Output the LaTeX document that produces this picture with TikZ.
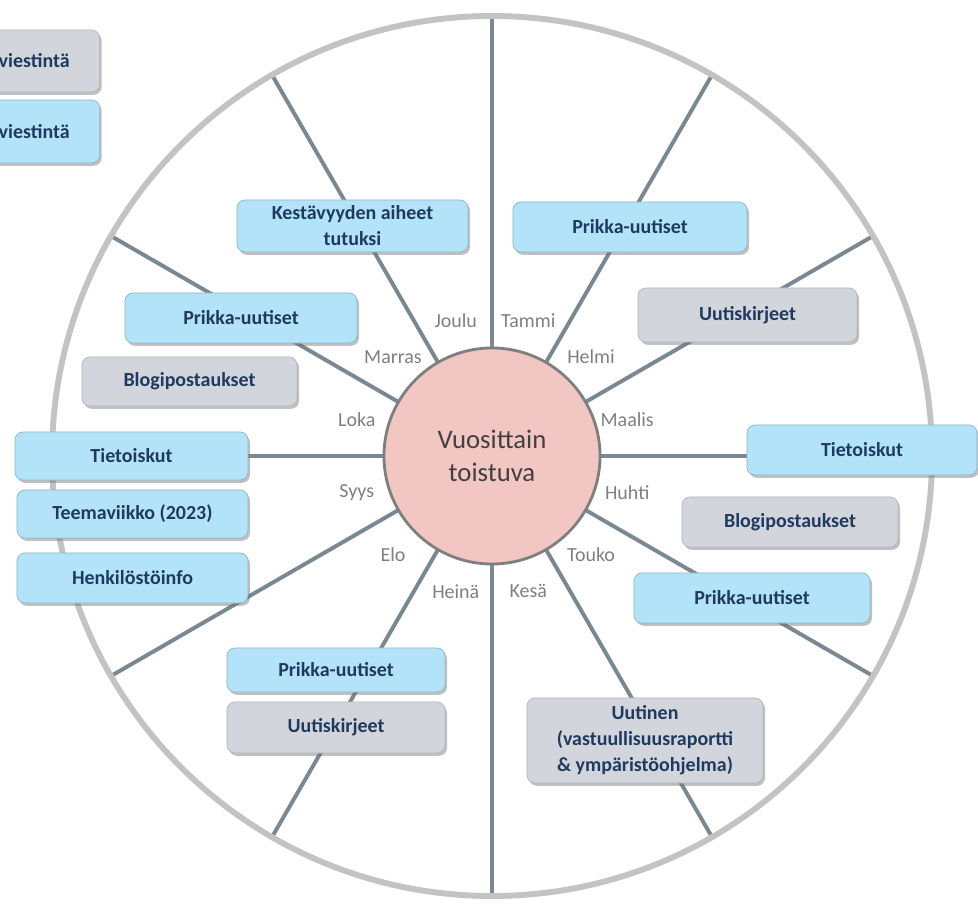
\documentclass[tikz,border=0pt]{standalone}
\usepackage{fontspec}
\setmainfont{Carlito}
\usetikzlibrary{shadows,calc}
\definecolor{spokegray}{HTML}{7A8892}
\definecolor{ringgray}{HTML}{C3C3C3}
\definecolor{hubpink}{HTML}{F2C6C2}
\definecolor{hubline}{HTML}{7F7F7F}
\definecolor{boxblue}{HTML}{B3E3F8}
\definecolor{boxgrey}{HTML}{D3D5DC}
\definecolor{boxtext}{HTML}{1F3A60}
\definecolor{monthgray}{HTML}{7F7F7F}
\begin{document}
\begin{tikzpicture}[x=0.025cm,y=-0.025cm,
  spoke/.style={draw=spokegray,line width=2.8pt},
  ring/.style={draw=ringgray,line width=4.2pt},
  hub/.style={circle,fill=hubpink,draw=hubline,line width=2pt,minimum size=5.4cm,align=center,text=black!75,font=\fontsize{19}{24}\selectfont},
  month/.style={text=monthgray,font=\fontsize{14.2}{16}\selectfont},
  card/.style={rounded corners=0.2cm,line width=0.5pt,text=boxtext,align=center,inner sep=0pt,font=\bfseries\fontsize{14.2}{18.5}\selectfont,drop shadow={shadow xshift=0.05cm,shadow yshift=-0.07cm,opacity=0.45,fill=black!55}},
  bluecard/.style={card,fill=boxblue,draw=boxblue!80!black},
  greycard/.style={card,fill=boxgrey,draw=boxgrey!85!black}]
\useasboundingbox (0,0) rectangle (978,905);
\coordinate (c) at (492,456);
\foreach \a in {0,30,...,330}
  \draw[spoke] (c) -- ++(\a:440);
\draw[ring] (c) circle[radius=440];
\node[hub] (hub) at (c) {Vuosittain\\toistuva};
\foreach \m [count=\i] in {Tammi,Helmi,Maalis,Huhti,Touko,Kesä,Heinä,Elo,Syys,Loka,Marras,Joulu}
  \node[month] (m\i) at ($(c)+(-105+30*\i:140)$) {\m};
\node[greycard,anchor=east,minimum height=1.55cm,text width=3.5cm,align=right,inner xsep=0.75cm] (leg1) at (100,61) {viestintä};
\node[bluecard,anchor=east,minimum height=1.575cm,text width=3.5cm,align=right,inner xsep=0.75cm] (leg2) at (100,131.5) {viestintä};
\node[bluecard,minimum width=5.775cm,minimum height=1.3cm] (kest) at (352.5,226) {Kestävyyden aiheet\\tutuksi};
\node[bluecard,minimum width=5.8cm,minimum height=1.25cm] (prikL) at (241,318) {Prikka-uutiset};
\node[greycard,minimum width=5.375cm,minimum height=1.225cm] (blogL) at (189.5,381.5) {Blogipostaukset};
\node[bluecard,minimum width=5.825cm,minimum height=1.2cm] (tietoL) at (131.5,456) {Tietoiskut};
\node[bluecard,minimum width=5.775cm,minimum height=1.2cm] (teema) at (132.5,514) {Teemaviikko (2023)};
\node[bluecard,minimum width=5.775cm,minimum height=1.25cm] (henk) at (132.5,578) {Henkilöstöinfo};
\node[bluecard,minimum width=5.45cm,minimum height=1.1cm] (prikBL) at (336,670) {Prikka-uutiset};
\node[greycard,minimum width=5.45cm,minimum height=1.275cm] (uutBL) at (336,727.5) {Uutiskirjeet};
\node[bluecard,minimum width=5.85cm,minimum height=1.25cm] (prikTR) at (630,227) {Prikka-uutiset};
\node[greycard,minimum width=5.475cm,minimum height=1.35cm] (uutR) at (747.5,315) {Uutiskirjeet};
\node[bluecard,minimum width=5.75cm,minimum height=1.25cm] (tietoR) at (862,450) {Tietoiskut};
\node[greycard,minimum width=5.4cm,minimum height=1.25cm] (blogR) at (790,522) {Blogipostaukset};
\node[bluecard,minimum width=5.9cm,minimum height=1.25cm] (prikR) at (752,598) {Prikka-uutiset};
\node[greycard,minimum width=5.9cm,minimum height=2.125cm] (uutinen) at (645,740.5) {Uutinen\\(vastuullisuusraportti\\\& ympäristöohjelma)};
\end{tikzpicture}
\end{document}
